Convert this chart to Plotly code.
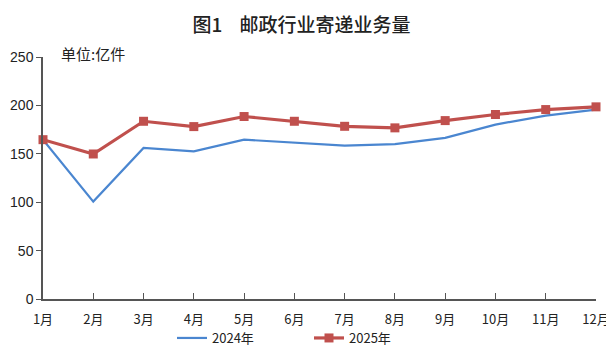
import plotly.graph_objects as go

months = ["1月", "2月", "3月", "4月", "5月", "6月", "7月", "8月", "9月", "10月", "11月", "12月"]
month_idx = list(range(1, 13))
vol_2024 = [164.6, 100.6, 156.0, 152.5, 164.6, 161.8, 158.4, 160.0, 166.4, 180.2, 189.5, 195.7]
vol_2025 = [164.6, 149.8, 183.6, 178.1, 188.5, 183.6, 178.4, 176.8, 184.3, 190.6, 195.7, 198.5]
y_ticks = [0, 50, 100, 150, 200, 250]

W, H = 606, 352
L, R, T, B = 43, 10, 57, 53
PW, PH = W - L - R, H - T - B

fig = go.Figure()
fig.add_trace(go.Scatter(
    x=month_idx, y=vol_2024, mode="lines", name="2024年",
    line=dict(color="#4A86D0", width=2.2), cliponaxis=False,
))
fig.add_trace(go.Scatter(
    x=month_idx, y=vol_2025, mode="lines+markers", name="2025年",
    line=dict(color="#C0504D", width=3.2),
    marker=dict(symbol="square", size=9, color="#C0504D"), cliponaxis=False,
))

fig.update_layout(
    width=W, height=H,
    margin=dict(l=L, r=R, t=T, b=B, autoexpand=False),
    paper_bgcolor="white", plot_bgcolor="white",
    title=dict(text="图1    邮政行业寄递业务量", xref="container", x=301.5 / W, xanchor="center",
               yref="container", y=1 - 25.5 / H, yanchor="middle",
               font=dict(family="Noto Sans CJK SC", size=19, color="#222222", weight=500)),
    showlegend=True,
    legend=dict(orientation="h", xref="container", x=172 / W, xanchor="left",
                yref="container", y=1 - 338 / H, yanchor="middle",
                font=dict(family="Noto Sans CJK SC", size=13, color="#222222"),
                entrywidth=92, entrywidthmode="pixels", tracegroupgap=0,
                bgcolor="rgba(0,0,0,0)"),
    font=dict(family="Liberation Sans", size=13, color="#222222"),
)
fig.update_xaxes(
    range=[1, 12], tickvals=month_idx, ticktext=months,
    showgrid=False, zeroline=False, showline=True, linecolor="#555555", linewidth=1.5,
    ticks="inside", ticklen=6, tickcolor="#555555", tickwidth=1.2,
    ticklabeloverflow="allow", automargin=False, ticklabelstandoff=8,
    tickfont=dict(family="Noto Sans CJK SC", size=13, color="#222222"),
)
fig.update_yaxes(
    range=[0, 250], tickvals=y_ticks,
    showgrid=False, zeroline=False, showline=True, linecolor="#555555", linewidth=1.5,
    ticks="outside", ticklen=5, tickcolor="#555555", tickwidth=1.2, automargin=False,
    tickfont=dict(family="Liberation Sans", size=14, color="#222222"),
)
fig.add_annotation(text="单位:亿件", xref="paper", yref="paper",
                   x=(59 - L) / PW, y=(H - B - 54) / PH,
                   xanchor="left", yanchor="middle", showarrow=False,
                   font=dict(family="Noto Sans CJK SC", size=15, color="#222222"))

fig.write_html("out.html")
